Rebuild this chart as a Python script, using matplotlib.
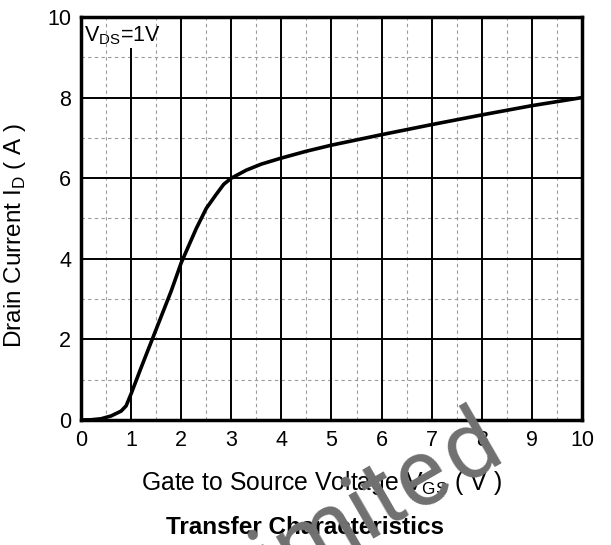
import numpy as np
import matplotlib
matplotlib.use("Agg")
import matplotlib.pyplot as plt

plt.rcParams['font.family'] = ['Liberation Sans', 'DejaVu Sans']
plt.rcParams['mathtext.fontset'] = 'custom'
plt.rcParams['mathtext.rm'] = 'Liberation Sans'

# transfer curve, V_DS = 1 V
vgs = [0.0, 0.2, 0.4, 0.6, 0.8, 0.9, 1.0, 1.2, 1.5, 1.8, 2.0, 2.3, 2.5, 2.7,
       2.85, 3.0, 3.3, 3.6, 4.0, 4.5, 5.0, 6.0, 7.0, 8.0, 9.0, 10.0]
i_d = [0.0, 0.005, 0.03, 0.1, 0.22, 0.35, 0.65, 1.3, 2.25, 3.2, 3.9, 4.75,
       5.25, 5.6, 5.85, 6.0, 6.2, 6.35, 6.5, 6.67, 6.82, 7.08, 7.33, 7.57,
       7.8, 8.0]

x_ticks = list(range(0, 11))
y_ticks = [0, 2, 4, 6, 8, 10]

W, H = 611, 545
fig = plt.figure(figsize=(W / 100, H / 100), dpi=100)
ax = fig.add_axes([0.1326, 0.2294, 0.8199, 0.7394])

ax.set_xlim(0, 10)
ax.set_ylim(0, 10)

# minor dotted grid
for x in np.arange(0.5, 10, 1.0):
    ax.plot([x, x], [0, 10], color='#9a9a9a', lw=0.8, ls=(0, (3, 3)), zorder=1)
for y in [1, 3, 5, 7, 9]:
    ax.plot([0, 10], [y, y], color='#9a9a9a', lw=0.8, ls=(0, (3, 3)), zorder=1)

# major grid (x=1 line stops below the V_DS label)
for x in x_ticks[1:-1]:
    top = 9.2 if x == 1 else 10
    ax.plot([x, x], [0, top], color='black', lw=1.4, zorder=2)
for y in [2, 4, 6, 8]:
    ax.plot([0, 10], [y, y], color='black', lw=1.4, zorder=2)

ax.plot(vgs, i_d, color='black', lw=2.6, solid_capstyle='round', zorder=3)

ax.set_xticks(x_ticks)
ax.set_yticks(y_ticks)
ax.tick_params(length=0, labelsize=15.5, pad=7)
for s in ax.spines.values():
    s.set_linewidth(2.5)
    s.set_zorder(4)

ax.text(0.06, 9.53, r'V$_{\mathregular{DS}}$=1V', fontsize=15.5, va='center',
        ha='left', zorder=5)

ax.set_ylabel(r'Drain Current I$_{\mathregular{D}}$ ( A )', fontsize=17.5)
ax.yaxis.set_label_coords(-0.106, 0.457)
ax.set_xlabel(r'Gate to Source Voltage V$_{\mathregular{GS}}$ ( V )', fontsize=17.8)
ax.xaxis.set_label_coords(0.48, -0.122)
fig.text(0.5, 0.033, 'Transfer Characteristics', fontsize=17.5,
         fontweight='bold', ha='center', va='center')

# watermark, laid out letter by letter along a tilted baseline
wm_text = 'Limited'
wm_adv = [0.556, 0.222, 0.833, 0.222, 0.278, 0.556, 0.556]  # em advances
em, ang, track = 94.0, 30.0, 1.08
ux, uy = np.cos(np.radians(ang)), np.sin(np.radians(ang))
centers = np.cumsum(wm_adv) - np.array(wm_adv) / 2
x_end, y_end = 484.0, 74.0  # baseline point under the last letter (pixels)
for ch, c in zip(wm_text, centers):
    d = (c - centers[-1]) * em * track
    fig.text((x_end + d * ux) / W, (y_end + d * uy) / H, ch,
             fontsize=em * 0.72, color='#707070', rotation=ang,
             family=['Roboto', 'Liberation Sans'], fontweight='normal',
             ha='center', va='baseline', rotation_mode='anchor', zorder=10)

fig.savefig('out.png', dpi=100)
